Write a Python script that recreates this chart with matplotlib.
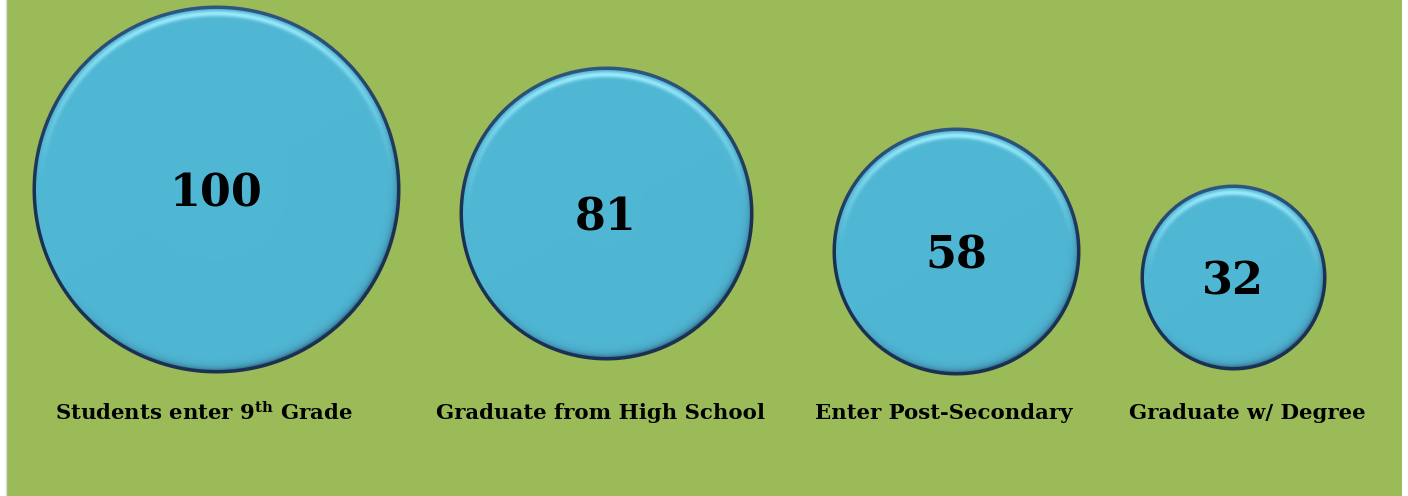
import numpy as np
import matplotlib.pyplot as plt
from matplotlib.colors import to_rgb
from matplotlib.patches import Circle, Rectangle

plt.rcParams['mathtext.fontset'] = 'dejavuserif'

# data
stages = ["Students enter 9$^{\\mathbf{th}}$ Grade", "Graduate from High School",
          "Enter Post-Secondary", "Graduate w/ Degree"]
counts = [100, 81, 58, 32]

# layout (pixels)
centers_x = [216, 606, 956, 1233]
centers_y = [190, 214, 252, 278]
radii = [184, 147, 124, 93]
label_x = [204, 600, 944, 1247]
label_y = 413

W, H = 1408, 496
bg_green = '#9BBB59'
fill_blue = np.array(to_rgb('#4FB6D3'))
light = np.array(to_rgb('#9AE9FB'))
shade = np.array(to_rgb('#1E3A5C'))
rim_dark = np.array(to_rgb('#1C3152'))
rim_light = np.array(to_rgb('#3F6E9E'))

fig = plt.figure(figsize=(W / 100, H / 100), dpi=100)
ax = fig.add_axes([0, 0, 1, 1])
ax.set_xlim(0, W)
ax.set_ylim(H, 0)
ax.set_aspect('equal')
ax.axis('off')

ax.add_patch(Rectangle((7, 0), 1395, H, facecolor=bg_green, edgecolor='none'))
ax.plot([6, 6], [0, H], color='#D9D9D9', lw=1)


def bubble_image(r):
    # bevelled disc: dark rim, light band on top, shade towards bottom-right
    n = int(np.ceil(r)) + 2
    g = np.arange(-n, n + 1) + 0.0
    dx, dy = np.meshgrid(g, g)
    dist = np.hypot(dx, dy) + 1e-9
    d = r - dist
    up = np.clip(-dy / dist, 0, 1)
    ang = np.arctan2(dy, dx)
    down = np.clip(np.cos(ang - np.radians(60)), 0, 1)

    rgb = np.broadcast_to(fill_blue, dx.shape + (3,)).copy()
    h = 1.0 * up ** 1.2 * np.exp(-((d - 8) / 3.0) ** 2)
    s = 0.6 * down * np.exp(-np.clip(d - 3.5, 0, None) / 3.0) * (d > 0)
    rgb = rgb * (1 - h[..., None]) + light * h[..., None]
    rgb = rgb * (1 - s[..., None]) + shade * s[..., None]
    rim_col = rim_dark * (1 - 0.6 * up[..., None]) + rim_light * 0.6 * up[..., None]
    rim = np.clip(4.0 - d, 0, 1)
    rgb = rgb * (1 - rim[..., None]) + rim_col * rim[..., None]
    alpha = np.clip(d + 0.5, 0, 1)
    return np.dstack([rgb, alpha]), n


for cx, cy, r, v in zip(centers_x, centers_y, radii, counts):
    ax.add_patch(Circle((cx, cy), r - 1, facecolor=fill_blue, edgecolor='none'))
    img, n = bubble_image(r)
    ax.imshow(img, extent=(cx - n - 0.5, cx + n + 0.5, cy + n + 0.5, cy - n - 0.5),
              origin='upper', interpolation='nearest', zorder=2)
    ax.text(cx, cy + 4, str(v), ha='center', va='center', fontsize=32,
            fontweight='bold', family='DejaVu Serif', color='black', zorder=3)

ax.set_xlim(0, W)
ax.set_ylim(H, 0)

for x, s in zip(label_x, stages):
    ax.text(x, label_y, s, ha='center', va='center', fontsize=15.3,
            fontweight='bold', family='DejaVu Serif', color='black')

fig.savefig('out.png', dpi=100, facecolor='white')
